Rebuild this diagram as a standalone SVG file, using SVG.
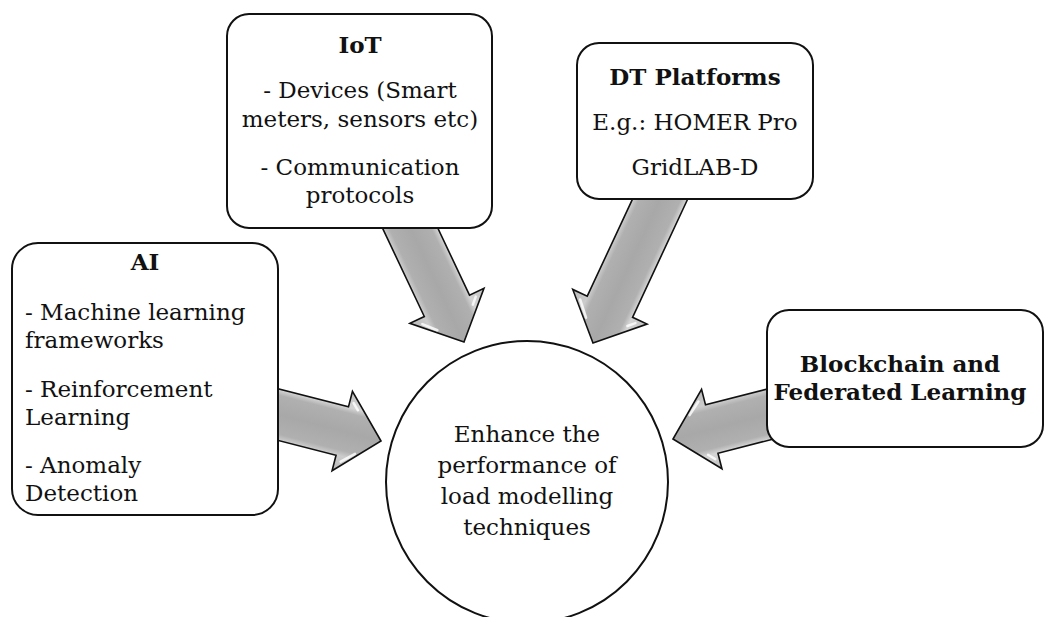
<svg xmlns="http://www.w3.org/2000/svg" width="1044" height="617" viewBox="0 0 1044 617">
<defs>
<linearGradient id="ag" x1="0" y1="0" x2="0" y2="1">
<stop offset="0" stop-color="#c0c0c0"/>
<stop offset="0.2" stop-color="#d4d4d4"/>
<stop offset="0.27" stop-color="#b0b0b0"/>
<stop offset="0.5" stop-color="#a8a8a8"/>
<stop offset="0.73" stop-color="#b0b0b0"/>
<stop offset="0.8" stop-color="#cccccc"/>
<stop offset="1" stop-color="#b8b8b8"/>
</linearGradient>
<style>
.box{fill:#fff;stroke:#111;stroke-width:2}
.arr{fill:url(#ag);stroke:#111;stroke-width:1.6;stroke-linejoin:miter}
.hl{fill:none;stroke:#fff;stroke-width:2.5;stroke-linecap:round;opacity:0.8}
.t{font-family:"DejaVu Serif","Liberation Serif",serif;font-size:23px;fill:#111}
.b{font-weight:bold}
.c{text-anchor:middle}
</style>
</defs>
<rect width="1044" height="617" fill="#fff"/>
<g id="connectors">
<g transform="translate(464,342) rotate(64.7)">
<polygon class="arr" points="0,0 -40,-41 -40,-25 -140,-25 -140,25 -40,25 -40,41"/>
<path class="hl" d="M-34,30 L-22,19 M-36,-30 L-30,-24"/>
</g>
<g transform="translate(593,343) rotate(115)">
<polygon class="arr" points="0,0 -40,-41 -40,-25 -170,-25 -170,25 -40,25 -40,41"/>
<path class="hl" d="M-34,30 L-20,17 M-36,-30 L-30,-24"/>
</g>
<g transform="translate(381,441) rotate(14.4)">
<polygon class="arr" points="0,0 -40,-41 -40,-25 -125,-25 -125,25 -40,25 -40,41"/>
<path class="hl" d="M-34,30 L-22,19 M-36,-30 L-30,-24"/>
</g>
<g transform="translate(673,439) rotate(165.6)">
<polygon class="arr" points="0,0 -40,-41 -40,-25 -115,-25 -115,25 -40,25 -40,41"/>
<path class="hl" d="M-34,30 L-22,19 M-36,-30 L-30,-24"/>
</g>
</g>
<g id="iot">
<rect class="box" x="227" y="14" width="265" height="214" rx="22"/>
<text class="t b c" x="360" y="53">IoT</text>
<text class="t c" x="360" y="98">- Devices (Smart</text>
<text class="t c" x="360" y="127">meters, sensors etc)</text>
<text class="t c" x="360" y="175">- Communication</text>
<text class="t c" x="360" y="203">protocols</text>
</g>
<g id="dt">
<rect class="box" x="577" y="43" width="236" height="156" rx="22"/>
<text class="t b c" x="695" y="85">DT Platforms</text>
<text class="t c" x="695" y="130">E.g.: HOMER Pro</text>
<text class="t c" x="695" y="175">GridLAB-D</text>
</g>
<g id="ai">
<rect class="box" x="12" y="243" width="266" height="272" rx="26"/>
<text class="t b c" x="145" y="270">AI</text>
<text class="t" x="25" y="320">- Machine learning</text>
<text class="t" x="25" y="348">frameworks</text>
<text class="t" x="25" y="397">- Reinforcement</text>
<text class="t" x="25" y="425">Learning</text>
<text class="t" x="25" y="473">- Anomaly</text>
<text class="t" x="25" y="501">Detection</text>
</g>
<g id="blockchain">
<rect class="box" x="767" y="310" width="276" height="137" rx="22"/>
<text class="t b c" x="900" y="372">Blockchain and</text>
<text class="t b c" x="900" y="400">Federated Learning</text>
</g>
<g id="goal">
<circle class="box" cx="527" cy="482" r="141"/>
<text class="t c" x="527" y="442">Enhance the</text>
<text class="t c" x="527" y="473">performance of</text>
<text class="t c" x="527" y="504">load modelling</text>
<text class="t c" x="527" y="535">techniques</text>
</g>
</svg>
